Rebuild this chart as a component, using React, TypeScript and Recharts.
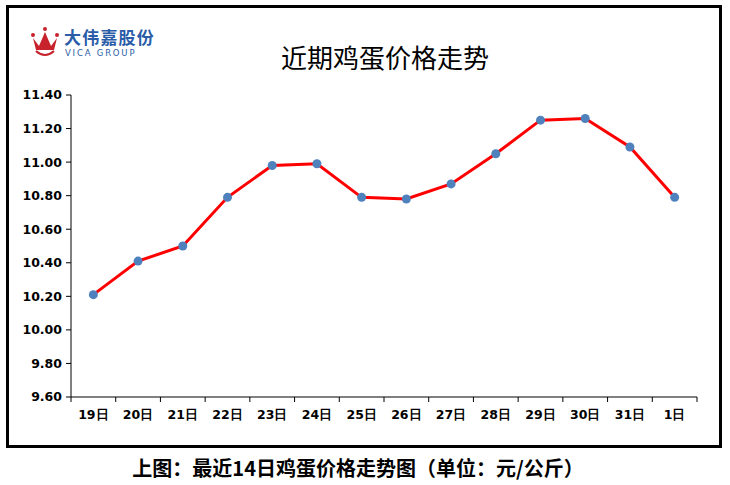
import React from 'react';
import { LineChart, Line, XAxis, YAxis } from 'recharts';

const days = ['19日', '20日', '21日', '22日', '23日', '24日', '25日', '26日', '27日', '28日', '29日', '30日', '31日', '1日'];
const prices = [10.21, 10.41, 10.5, 10.79, 10.98, 10.99, 10.79, 10.78, 10.87, 11.05, 11.25, 11.26, 11.09, 10.79];
const yTicks = [9.6, 9.8, 10.0, 10.2, 10.4, 10.6, 10.8, 11.0, 11.2, 11.4];

const chartData = days.map((d, i) => ({ day: d, price: prices[i] }));

const W = 730;
const H = 485;
const margin = { top: 95, right: 33, left: 11, bottom: 58 };
const yAxisWidth = 60;
const xAxisHeight = 30;
const plotWidth = W - margin.left - margin.right - yAxisWidth;
const band = plotWidth / days.length;
const axisY = H - margin.bottom - xAxisHeight;

// category labels in the middle, tick marks on the band edges
const XTick = (props: any) => {
  const { x, payload, index } = props;
  return (
    <g>
      <line x1={x - band / 2} y1={axisY} x2={x - band / 2} y2={axisY + 5} stroke="#000" strokeWidth={1} />
      {index === days.length - 1 && (
        <line x1={x + band / 2} y1={axisY} x2={x + band / 2} y2={axisY + 5} stroke="#000" strokeWidth={1} />
      )}
      <text x={x} y={axisY + 22} textAnchor="middle" fontFamily="DejaVu Sans" fontWeight="bold" fontSize={12.5} fill="#000">
        {payload.value}
      </text>
    </g>
  );
};

const Logo = () => (
  <div style={{ position: 'absolute', left: 30, top: 26, width: 140, height: 34 }}>
    <svg width={32} height={32} style={{ position: 'absolute', left: 0, top: 0 }}>
      <circle cx={3} cy={9} r={2} fill="#c8232c" />
      <circle cx={15} cy={3} r={2} fill="#c8232c" />
      <circle cx={27} cy={9} r={2} fill="#c8232c" />
      <path d="M3 12 L9 20 L15 6 L21 20 L27 12 L24 24 L6 24 Z" fill="#c8232c" />
      <path d="M6 25 Q15 33 24 25" stroke="#c8232c" strokeWidth={2} fill="none" />
    </svg>
    <div style={{ position: 'absolute', left: 34, top: 2, fontFamily: '"Noto Sans CJK SC"', fontWeight: 'bold', fontSize: 17, lineHeight: '17px', color: '#2a5ca8', letterSpacing: 1.2 }}>
      大伟嘉股份
    </div>
    <div style={{ position: 'absolute', left: 35, top: 23, fontFamily: 'DejaVu Sans', fontSize: 8.5, lineHeight: '9px', color: '#2a5ca8', letterSpacing: 1.8 }}>
      VICA GROUP
    </div>
  </div>
);

export default function App() {
  return (
    <div style={{ position: 'absolute', left: 0, top: 0, width: W, height: H, background: '#fff' }}>
      <div style={{ position: 'absolute', left: 6, top: 5, width: 710, height: 437, border: '3px solid #000' }} />
      <Logo />
      <div style={{ position: 'absolute', left: 0, width: 770, top: 40, textAlign: 'center', fontFamily: '"Noto Sans CJK SC"', fontSize: 26, lineHeight: '34px', color: '#000' }}>
        近期鸡蛋价格走势
      </div>
      <div style={{ position: 'absolute', left: 0, width: 716, top: 455, textAlign: 'center', fontFamily: '"Noto Sans CJK SC"', fontWeight: 'bold', fontSize: 20, lineHeight: '26px', color: '#000' }}>
        上图：最近14日鸡蛋价格走势图（单位：元/公斤）
      </div>
      <div style={{ position: 'absolute', left: 0, top: 0 }}>
        <LineChart width={W} height={H} data={chartData} margin={margin}>
          <XAxis
            dataKey="day"
            tick={<XTick />}
            tickLine={false}
            axisLine={{ stroke: '#000' }}
            interval={0}
            height={xAxisHeight}
            padding={{ left: band / 2, right: band / 2 }}
          />
          <YAxis
            domain={[9.6, 11.4]}
            ticks={yTicks}
            width={yAxisWidth}
            tickFormatter={(v: number) => v.toFixed(2)}
            tick={{ fontFamily: 'DejaVu Sans', fontWeight: 'bold', fontSize: 12.5, fill: '#000' }}
            tickSize={5}
            tickMargin={4}
            axisLine={{ stroke: '#000' }}
            tickLine={{ stroke: '#000' }}
          />
          <Line
            type="linear"
            dataKey="price"
            stroke="#ff0000"
            strokeWidth={3}
            dot={{ r: 4.5, fill: '#4f81bd', stroke: 'none' }}
            activeDot={false}
            isAnimationActive={false}
          />
        </LineChart>
      </div>
    </div>
  );
}
